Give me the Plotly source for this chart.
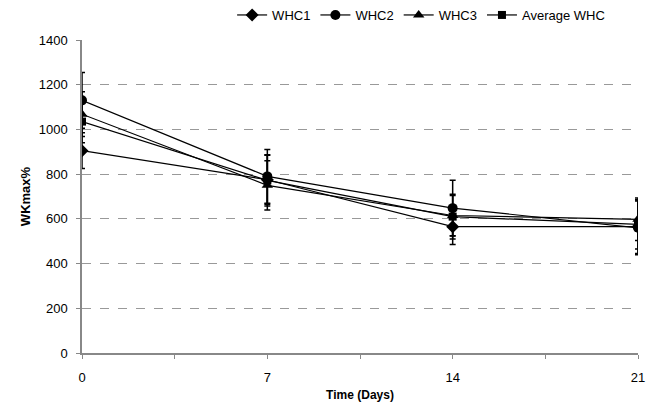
import plotly.graph_objects as go

days = [0, 7, 14, 21]
whc1 = [905, 775, 565, 565]
whc2 = [1130, 790, 648, 560]
whc3 = [1068, 750, 615, 598]
avg_whc = [1035, 772, 610, 575]
err1 = [80, 110, 80, 120]
err2 = [125, 120, 125, 120]
err3 = [100, 110, 90, 95]
err_avg = [95, 115, 100, 110]

names = ["WHC1", "WHC2", "WHC3", "Average WHC"]
series = [whc1, whc2, whc3, avg_whc]
errs = [err1, err2, err3, err_avg]
symbols = ["diamond", "circle", "triangle-up", "square"]
sizes = [10, 10, 10, 8]

fig = go.Figure()
for n, s, e, sym, sz in zip(names, series, errs, symbols, sizes):
    fig.add_trace(go.Scatter(
        x=days, y=s, name=n, mode="lines+markers",
        line=dict(color="black", width=1.2),
        marker=dict(symbol=sym, size=sz, color="black"),
        error_y=dict(type="data", array=e, visible=True, color="black", thickness=1.5, width=3),
    ))

fig.update_layout(
    width=647, height=405,
    margin=dict(l=82, r=9, t=40, b=52, autoexpand=False),
    paper_bgcolor="white", plot_bgcolor="white",
    font=dict(family="Liberation Sans, Arial, sans-serif", size=13, color="black"),
    legend=dict(orientation="h", x=0.27, xanchor="left", yref="container", y=1.0, yanchor="top",
                font=dict(size=13)),
    showlegend=True,
)
fig.update_xaxes(
    range=[0, 21], tickvals=days, ticktext=[str(d) for d in days],
    showline=True, linecolor="#888888", linewidth=1.5,
    ticks="outside", ticklen=4, tickcolor="#888888",
    minor=dict(dtick=3.5, ticks="outside", ticklen=4, tickcolor="#888888"),
    showgrid=False, zeroline=False, ticklabelstandoff=8, automargin=False,
    title=dict(text="<b>Time (Days)</b>", font=dict(size=12), standoff=6),
)
fig.update_yaxes(
    range=[0, 1400], dtick=200,
    showline=True, linecolor="#888888", linewidth=1.5,
    ticks="outside", ticklen=4, tickcolor="#888888",
    showgrid=True, gridcolor="#999999", griddash="dash", gridwidth=1,
    zeroline=False, ticklabelstandoff=6, automargin=False,
    title=dict(text="<b>WKmax%</b>", font=dict(size=13), standoff=5),
)

fig.write_html("out.html")
